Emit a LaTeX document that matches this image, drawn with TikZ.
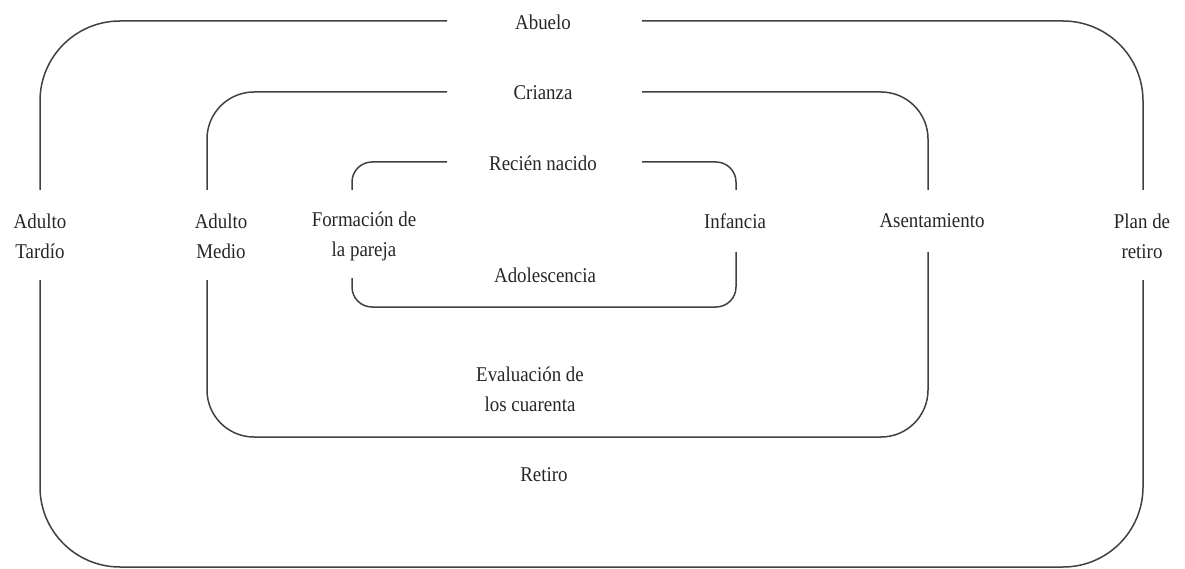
\documentclass[tikz,border=0pt]{standalone}
\usepackage{fontspec}
\setmainfont{Liberation Serif}[FakeStretch=0.9]
\begin{document}
\begin{tikzpicture}[x=1pt,y=-1pt,
  lbl/.style={align=center,inner sep=0pt,text=black!85,font=\fontsize{21}{30}\selectfont},
  ring/.style={draw=black!75,line width=1.5pt}]
\useasboundingbox (0,0) rectangle (1185,569);
% named corner points of the three frames
% outer frame
\coordinate (oTR) at (642,21);
\coordinate (oTL) at (447,21);
\coordinate (oRu) at (1143,190);
\coordinate (oRd) at (1143,280);
\coordinate (oLu) at (40,190);
\coordinate (oLd) at (40,280);
% middle frame
\coordinate (mTR) at (642,92);
\coordinate (mTL) at (447,92);
\coordinate (mRu) at (928,190);
\coordinate (mRd) at (928,252);
\coordinate (mLu) at (207,190);
\coordinate (mLd) at (207,280);
% inner frame
\coordinate (iTR) at (642,162);
\coordinate (iTL) at (447,162);
\coordinate (iRu) at (736,190);
\coordinate (iRd) at (736,252);
\coordinate (iLu) at (352,190);
\coordinate (iLd) at (352,278);

% outer frame
\draw[ring,rounded corners=80pt] (oTR) -- (1143,21) -- (oRu);
\draw[ring,rounded corners=80pt] (oRd) -- (1143,567) -- (40,567) -- (oLd);
\draw[ring,rounded corners=80pt] (oLu) -- (40,21) -- (oTL);
% middle frame
\draw[ring,rounded corners=47pt] (mTR) -- (928,92) -- (mRu);
\draw[ring,rounded corners=47pt] (mRd) -- (928,437) -- (207,437) -- (mLd);
\draw[ring,rounded corners=47pt] (mLu) -- (207,92) -- (mTL);
% inner frame
\draw[ring,rounded corners=20pt] (iTR) -- (736,162) -- (iRu);
\draw[ring,rounded corners=20pt] (iRd) -- (736,307) -- (352,307) -- (iLd);
\draw[ring,rounded corners=20pt] (iLu) -- (352,162) -- (iTL);

% labels
\node[lbl] (abuelo) at (543,22) {Abuelo};
\node[lbl] (crianza) at (543,93) {Crianza};
\node[lbl] (recien) at (543,163) {Recién nacido};
\node[lbl] (tardio) at (40,236) {Adulto\\Tardío};
\node[lbl] (medio) at (221,236) {Adulto\\Medio};
\node[lbl] (pareja) at (364,236) {Formación de\\la pareja};
\node[lbl] (infancia) at (735,221) {Infancia};
\node[lbl] (asent) at (932,221) {Asentamiento};
\node[lbl] (plan) at (1142,236) {Plan de\\retiro};
\node[lbl] (adol) at (545,275) {Adolescencia};
\node[lbl] (evalua) at (530,389) {Evaluación de\\los cuarenta};
\node[lbl] (retiro) at (544,475) {Retiro};
\end{tikzpicture}
\end{document}
